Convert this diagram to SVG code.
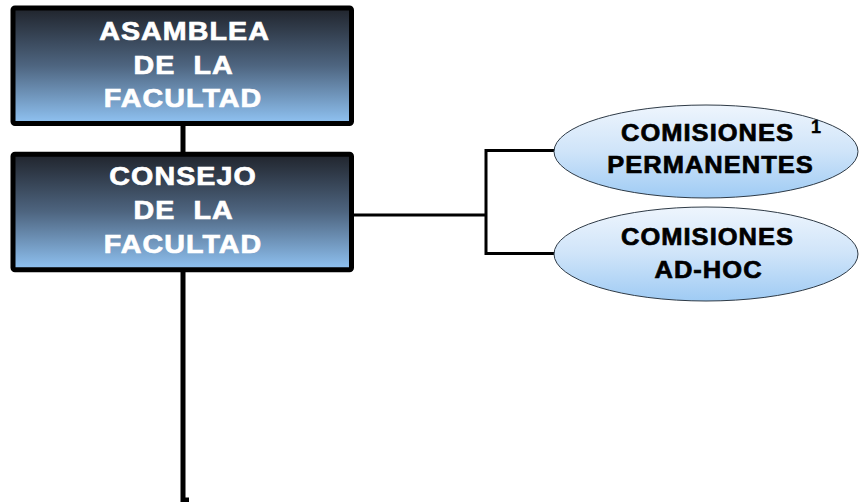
<svg xmlns="http://www.w3.org/2000/svg" width="859" height="502" viewBox="0 0 859 502">
<defs>
<linearGradient id="boxGrad" x1="0" y1="0" x2="0" y2="1">
<stop offset="0" stop-color="#20242c"/>
<stop offset="0.5" stop-color="#4e6580"/>
<stop offset="1" stop-color="#90c3f3"/>
</linearGradient>
<linearGradient id="ellGrad" x1="0" y1="0" x2="0" y2="1">
<stop offset="0" stop-color="#eef5fd"/>
<stop offset="0.5" stop-color="#cfe4f9"/>
<stop offset="1" stop-color="#9fcbf4"/>
</linearGradient>
</defs>
<style>
.box{fill:url(#boxGrad);stroke:#000;stroke-width:5}
.ell{fill:url(#ellGrad);stroke:#2e3a46;stroke-width:1}
.bt{font-family:"Liberation Sans",Arial,sans-serif;font-weight:bold;font-size:26.5px;fill:#fff;stroke:#fff;stroke-width:0.7;text-anchor:middle;letter-spacing:1px;white-space:pre}
.et{font-family:"Liberation Sans",Arial,sans-serif;font-weight:bold;font-size:24.5px;fill:#000;stroke:#000;stroke-width:0.7;text-anchor:middle;letter-spacing:1px}
.sup{font-family:"Liberation Sans",Arial,sans-serif;font-weight:bold;font-size:18px;fill:#000;stroke:#000;stroke-width:0.4}
.c{fill:none;stroke:#000;stroke-linejoin:miter}
</style>
<g id="connectors">
<line class="c" x1="183" y1="124" x2="183" y2="154" stroke-width="5"/>
<polyline class="c" points="183,270 183,500 189,500" stroke-width="5"/>
<line class="c" x1="352" y1="215" x2="486" y2="215" stroke-width="3"/>
<polyline class="c" points="558,150.5 486,150.5 486,253.5 558,253.5" stroke-width="3"/>
</g>
<g id="asamblea">
<rect class="box" x="13" y="8" width="338.5" height="115.5" rx="2"/>
<text class="bt" transform="translate(184,39.5) scale(1.08,1)" x="0.5" y="0">ASAMBLEA</text>
<text class="bt" transform="translate(183,73.5) scale(1.08,1)" x="0.5" y="0">DE  LA</text>
<text class="bt" transform="translate(182.5,107) scale(1.08,1)" x="0.5" y="0">FACULTAD</text>
</g>
<g id="consejo">
<rect class="box" x="13" y="154.2" width="338.5" height="115.6" rx="2"/>
<text class="bt" transform="translate(182.5,184.5) scale(1.08,1)" x="0.5" y="0">CONSEJO</text>
<text class="bt" transform="translate(183,219) scale(1.08,1)" x="0.5" y="0">DE  LA</text>
<text class="bt" transform="translate(182.5,252.5) scale(1.08,1)" x="0.5" y="0">FACULTAD</text>
</g>
<g id="permanentes">
<ellipse class="ell" cx="706" cy="151.5" rx="152" ry="46.5"/>
<text class="et" transform="translate(707,141) scale(1.04,1)" x="0.5" y="0">COMISIONES</text>
<text class="sup" x="811" y="133">1</text>
<text class="et" transform="translate(710,172.5) scale(1.04,1)" x="0.5" y="0">PERMANENTES</text>
</g>
<g id="adhoc">
<ellipse class="ell" cx="706" cy="254" rx="152" ry="47"/>
<text class="et" transform="translate(707,245) scale(1.04,1)" x="0.5" y="0">COMISIONES</text>
<text class="et" transform="translate(708,277.5) scale(1.04,1)" x="0.5" y="0">AD-HOC</text>
</g>
</svg>
